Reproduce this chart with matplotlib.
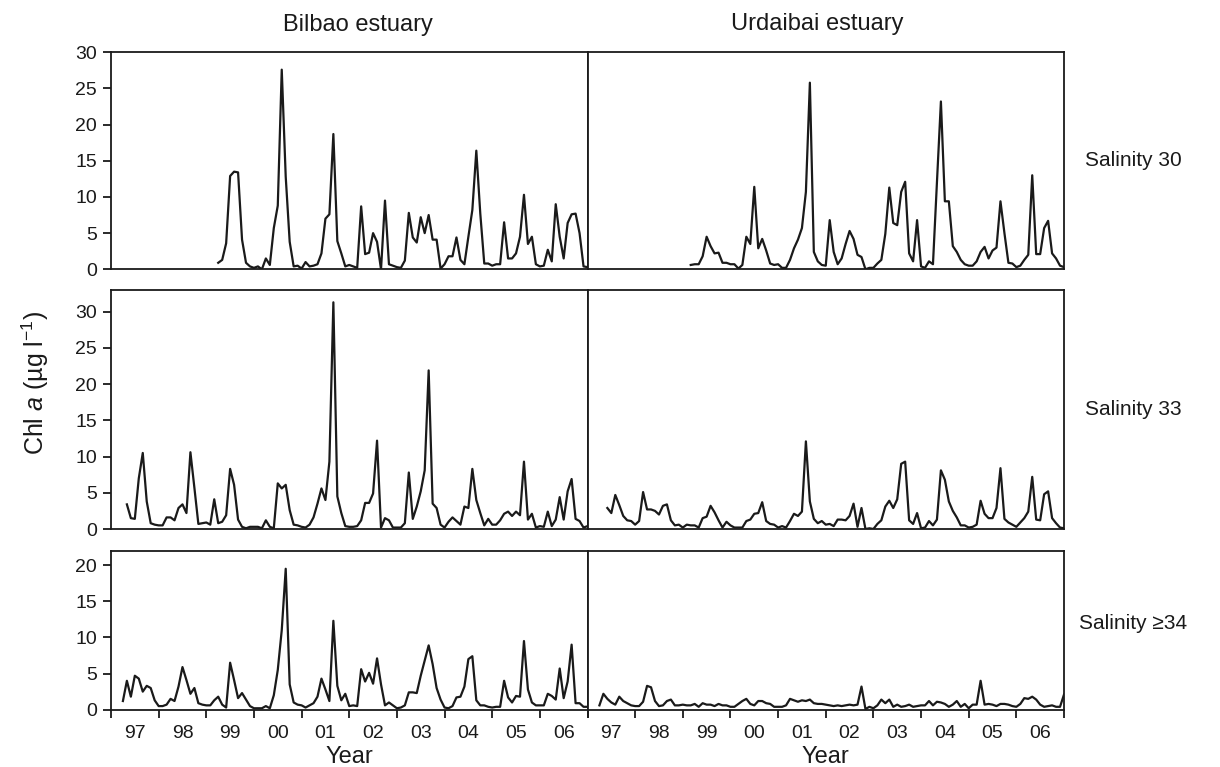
import numpy as np
import matplotlib
matplotlib.use("Agg")
import matplotlib.pyplot as plt

plt.rcParams['font.family'] = ['Liberation Sans', 'DejaVu Sans']
plt.rcParams['mathtext.fontset'] = 'custom'
plt.rcParams['mathtext.rm'] = 'Liberation Sans'
plt.rcParams['mathtext.it'] = 'Liberation Sans:italic'

# months since Jan 1997 (0 .. 120)
year_labels = ['97', '98', '99', '00', '01', '02', '03', '04', '05', '06']
estuaries = ['Bilbao estuary', 'Urdaibai estuary']
salinity_labels = ['Salinity 30', 'Salinity 33', 'Salinity \u226534']
row_ylim = [30, 33, 22]
row_yticks = [[0, 5, 10, 15, 20, 25, 30], [0, 5, 10, 15, 20, 25, 30], [0, 5, 10, 15, 20]]

# Chl a (ug/l), monthly; first value at month index start_*
start_bilbao_30 = 27
bilbao_30 = [0.9, 1.3, 3.6, 12.9, 13.5, 13.4, 4.1, 0.9, 0.4, 0.2, 0.4, 0, 1.5, 0.6, 5.7, 8.8,
             27.6, 12.8, 3.8, 0.4, 0.5, 0.1, 1.0, 0.4, 0.5, 0.7, 2.2, 7.0, 7.6, 18.7, 3.9, 2.2,
             0.4, 0.6, 0.4, 0.2, 8.7, 2.1, 2.3, 5.0, 3.8, 0, 9.5, 0.7, 0.5, 0.3, 0.2, 1.2,
             7.8, 4.4, 3.7, 7.2, 5.0, 7.5, 4.1, 4.1, 0.1, 0.7, 1.8, 1.8, 4.4, 1.3, 0.7, 4.5,
             8.2, 16.4, 7.7, 0.8, 0.8, 0.5, 0.7, 0.7, 6.5, 1.5, 1.5, 2.2, 4.5, 10.3, 3.5, 4.5,
             0.7, 0.4, 0.5, 2.7, 1.1, 9.0, 4.5, 1.5, 6.4, 7.6, 7.7, 5.0, 0.4, 0.3]

start_urdaibai_30 = 26
urdaibai_30 = [0.6, 0.7, 0.7, 1.8, 4.5, 3.2, 2.2, 2.3, 0.9, 0.9, 0.7, 0.7, 0.1, 0.6, 4.5, 3.5,
               11.4, 2.9, 4.2, 2.6, 0.8, 0.6, 0.7, 0.2, 0.2, 1.3, 2.9, 4.1, 5.7, 10.7, 25.8, 2.4,
               1.1, 0.6, 0.5, 6.8, 2.4, 0.7, 1.5, 3.5, 5.3, 4.2, 2.0, 1.7, 0, 0.2, 0.2, 0.8,
               1.3, 4.9, 11.3, 6.4, 6.1, 10.7, 12.1, 2.2, 1.1, 6.8, 0.4, 0.2, 1.1, 0.7, 12.0, 23.2,
               9.4, 9.4, 3.2, 2.4, 1.3, 0.7, 0.5, 0.5, 1.1, 2.4, 3.1, 1.5, 2.6, 3.0, 9.4, 5.0,
               0.9, 0.8, 0.3, 0.5, 1.3, 2.0, 13.0, 2.1, 2.1, 5.7, 6.7, 2.2, 1.5, 0.5, 0.3]

start_bilbao_33 = 4
bilbao_33 = [3.4, 1.5, 1.4, 7.0, 10.5, 3.8, 0.8, 0.6, 0.5, 0.5, 1.6, 1.6, 1.2, 2.9, 3.4, 2.2,
             10.6, 5.7, 0.7, 0.8, 0.9, 0.6, 4.1, 0.8, 1.0, 1.9, 8.3, 6.1, 1.3, 0.3, 0.1, 0.3,
             0.3, 0.3, 0.1, 1.2, 0.3, 0.1, 6.3, 5.6, 6.1, 2.6, 0.6, 0.5, 0.3, 0.2, 0.6, 1.6,
             3.5, 5.6, 4.0, 9.3, 31.3, 4.5, 2.2, 0.4, 0.3, 0.3, 0.4, 1.2, 3.6, 3.6, 4.9, 12.2,
             0.2, 1.5, 1.2, 0.2, 0.2, 0.2, 0.8, 7.8, 1.4, 3.1, 5.2, 8.1, 21.9, 3.5, 2.9, 0.6,
             0.2, 1.0, 1.6, 1.1, 0.6, 3.1, 2.9, 8.3, 4.0, 2.2, 0.5, 1.4, 0.6, 0.6, 1.2, 2.1,
             2.4, 1.8, 2.4, 1.9, 9.3, 1.3, 2.1, 0.2, 0.4, 0.3, 2.4, 0.4, 1.3, 4.4, 1.3, 5.2,
             6.9, 1.4, 1.1, 0.2, 0.4]

start_urdaibai_33 = 5
urdaibai_33 = [2.9, 2.2, 4.7, 3.3, 1.8, 1.2, 1.1, 0.6, 1.1, 5.1, 2.7, 2.7, 2.5, 2.0, 3.2, 3.4,
               1.2, 0.5, 0.6, 0.2, 0.6, 0.5, 0.5, 0.2, 1.5, 1.7, 3.2, 2.3, 1.2, 0.2, 1.0, 0.5,
               0.2, 0.2, 0.2, 1.1, 1.3, 2.1, 2.2, 3.7, 1.1, 0.7, 0.6, 0.2, 0.4, 0.2, 1.1, 2.1,
               1.8, 2.4, 12.1, 3.8, 1.4, 0.8, 1.1, 0.6, 0.7, 0.4, 1.3, 1.3, 1.2, 1.8, 3.5, 0.3,
               2.9, 0, 0.1, 0, 0.7, 1.2, 3.1, 3.9, 2.9, 4.1, 9.0, 9.3, 1.2, 0.7, 2.2, 0.1,
               0.2, 1.1, 0.5, 1.3, 8.1, 6.8, 3.8, 2.5, 1.6, 0.5, 0.5, 0.2, 0.3, 0.6, 3.9, 2.1,
               1.5, 1.5, 2.9, 8.4, 1.4, 0.9, 0.6, 0.3, 0.9, 1.5, 2.4, 7.2, 1.3, 1.2, 4.8, 5.2,
               1.5, 0.8, 0.2, 0.1]

start_bilbao_34 = 3
bilbao_34 = [1.2, 4.0, 1.8, 4.7, 4.3, 2.5, 3.3, 3.0, 1.3, 0.5, 0.5, 0.7, 1.5, 1.2, 3.2, 5.9,
             4.1, 2.2, 3.0, 0.9, 0.7, 0.6, 0.6, 1.3, 1.8, 0.7, 0.3, 6.5, 4.1, 1.6, 2.3, 1.4,
             0.5, 0.2, 0.2, 0.2, 0.5, 0.2, 2.0, 5.5, 11.0, 19.5, 3.5, 1.0, 0.7, 0.6, 0.3, 0.6,
             0.9, 1.8, 4.3, 2.8, 1.2, 12.3, 3.3, 1.3, 2.2, 0.5, 0.6, 0.5, 5.6, 3.9, 5.1, 3.6,
             7.1, 3.5, 0.6, 1.0, 0.6, 0.2, 0.3, 0.6, 2.4, 2.4, 2.3, 4.7, 6.8, 8.9, 6.3, 3.0,
             1.4, 0.3, 0.2, 0.5, 1.7, 1.8, 3.2, 7.0, 7.4, 1.3, 0.6, 0.6, 0.4, 0.3, 0.4, 0.4,
             4.0, 1.7, 1.0, 1.9, 1.8, 9.5, 2.8, 1.0, 0.6, 0.6, 0.6, 2.2, 1.9, 1.4, 5.7, 1.6,
             3.9, 9.0, 0.9, 0.9, 0.4, 0.4]

start_urdaibai_34 = 3
urdaibai_34 = [0.6, 2.2, 1.5, 1.0, 0.7, 1.8, 1.2, 0.9, 0.6, 0.5, 0.5, 1.1, 3.3, 3.1, 1.2, 0.5,
               0.6, 1.2, 1.4, 0.6, 0.6, 0.7, 0.6, 0.6, 0.8, 0.4, 0.9, 0.7, 0.7, 0.5, 0.8, 0.6,
               0.6, 0.4, 0.4, 0.8, 1.2, 1.5, 0.8, 0.6, 1.2, 1.2, 0.9, 0.8, 0.4, 0.4, 0.4, 0.6,
               1.5, 1.3, 1.1, 1.3, 1.2, 1.4, 0.9, 0.8, 0.8, 0.7, 0.6, 0.5, 0.6, 0.5, 0.6, 0.7,
               0.6, 0.7, 3.2, 0.1, 0.4, 0.2, 0.6, 1.4, 0.9, 1.4, 0.4, 0.7, 0.4, 0.5, 0.7, 0.4,
               0.5, 0.6, 0.6, 1.2, 0.6, 1.1, 1.0, 0.8, 0.4, 0.7, 1.2, 0.4, 0.8, 0.2, 0.7, 0.7,
               4.0, 0.7, 0.8, 0.7, 0.5, 0.8, 0.8, 0.7, 0.5, 0.4, 0.8, 1.6, 1.5, 1.8, 1.4, 0.7,
               0.4, 0.5, 0.6, 0.4, 0.4, 2.1]

series = [[(start_bilbao_30, bilbao_30), (start_urdaibai_30, urdaibai_30)],
          [(start_bilbao_33, bilbao_33), (start_urdaibai_33, urdaibai_33)],
          [(start_bilbao_34, bilbao_34), (start_urdaibai_34, urdaibai_34)]]

W, H = 1220, 767
fig = plt.figure(figsize=(W / 100, H / 100), dpi=100)

col_x = [111, 587.5]
col_w = 476.5
row_top = [52.3, 290, 550.7]
row_bot = [269.3, 529, 709.7]
ink = '#1a1a1a'
fs = 14

for r in range(3):
    for c in range(2):
        ax = fig.add_axes([col_x[c] / W, 1 - row_bot[r] / H, col_w / W, (row_bot[r] - row_top[r]) / H])
        start, vals = series[r][c]
        x = start + np.arange(len(vals))
        ax.plot(x, vals, color=ink, lw=1.6)
        ax.set_xlim(0, 120)
        ax.set_ylim(0, row_ylim[r])
        for s in ax.spines.values():
            s.set_linewidth(1.3)
            s.set_color(ink)
        ax.set_xticks(np.arange(0, 121, 12))
        ax.set_xticks(np.arange(6, 120, 12), minor=True)
        ax.tick_params(axis='x', which='minor', length=0, pad=11, labelsize=fs, colors=ink)
        ax.tick_params(axis='x', which='major', direction='out', length=5.5, width=1.3, color=ink)
        ax.set_xticklabels([])
        if r == 2:
            ax.set_xticklabels(year_labels, minor=True)
            ax.text(0.5, -0.3, 'Year', transform=ax.transAxes, ha='center', va='center',
                    fontsize=17, color=ink)
        else:
            ax.tick_params(axis='x', which='both', length=0)
        if c == 0:
            ax.set_yticks(row_yticks[r])
            ax.tick_params(axis='y', direction='out', length=6, width=1.3, pad=4,
                           labelsize=fs, colors=ink)
        else:
            ax.set_yticks([])
        if c == 1:
            ax.text(1.145, 0.5 if r < 2 else 0.54, salinity_labels[r], transform=ax.transAxes,
                    ha='center', va='center', fontsize=15, color=ink)

# column titles
fig.text(358 / W, 1 - 25 / H, estuaries[0], ha='center', va='center', fontsize=17, color=ink)
fig.text(817 / W, 1 - 24 / H, estuaries[1], ha='center', va='center', fontsize=17, color=ink)

fig.text(35 / W, 1 - 383 / H, r'Chl $\mathit{a}$ (µg l$^{-1}$)', rotation=90,
         ha='center', va='center', fontsize=18, color=ink)

fig.savefig('out.png', dpi=100)
